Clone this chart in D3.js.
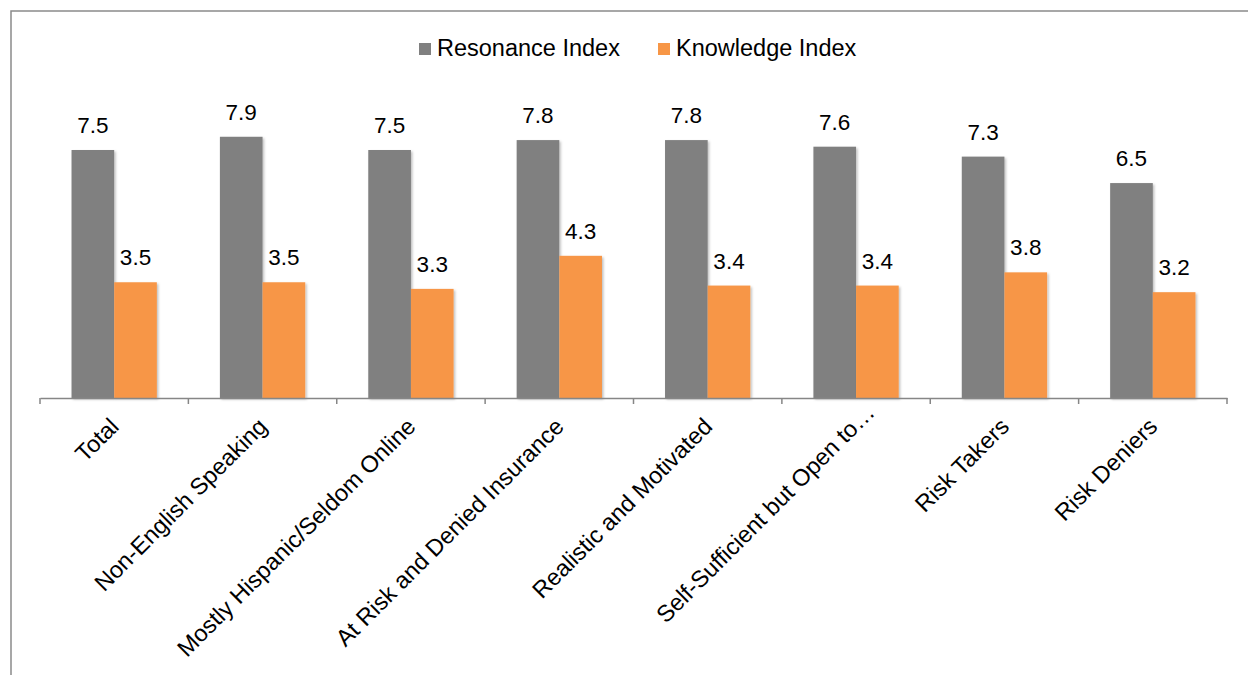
<!DOCTYPE html>
<html>
<head>
<meta charset="utf-8">
<script src="https://cdn.jsdelivr.net/npm/d3@7"></script>
<style>
  html, body { margin: 0; padding: 0; background: #fff; }
  svg { display: block; font-family: "Liberation Sans", Arial, sans-serif; }
</style>
</head>
<body>
<svg id="chart" width="1248" height="675"></svg>
<script>
// Segment categories and the two index series
const categories = [
  "Total",
  "Non-English Speaking",
  "Mostly Hispanic/Seldom Online",
  "At Risk and Denied Insurance",
  "Realistic and Motivated",
  "Self-Sufficient but Open to\u2026",
  "Risk Takers",
  "Risk Deniers"
];
const seriesNames = ["Resonance Index", "Knowledge Index"];
const resonance = [7.5, 7.9, 7.5, 7.8, 7.8, 7.6, 7.3, 6.5];
const knowledge = [3.5, 3.5, 3.3, 4.3, 3.4, 3.4, 3.8, 3.2];
const colors = ["#808080", "#F79646"];

const rows = categories.map((c, i) => ({ cat: c, values: [resonance[i], knowledge[i]] }));

const svg = d3.select("#chart");
const W = 1248, H = 675;
const plot = { left: 40, right: 1227, baseline: 398, top: 100.4 };

// Outer frame (right and bottom edges run past the canvas)
svg.append("rect")
  .attr("x", 11).attr("y", 11)
  .attr("width", W + 20).attr("height", H + 20)
  .attr("fill", "none").attr("stroke", "#8a8a8a").attr("stroke-width", 1.5);

// Soft shadow under the bars
const defs = svg.append("defs");
const f = defs.append("filter").attr("id", "shadow")
  .attr("x", "-20%").attr("y", "-20%").attr("width", "150%").attr("height", "150%");
f.append("feDropShadow").attr("dx", 1.5).attr("dy", 1.5)
  .attr("stdDeviation", 1.2).attr("flood-color", "#000").attr("flood-opacity", 0.25);

const x0 = d3.scaleBand().domain(categories)
  .range([plot.left, plot.right]).paddingInner(0.425).paddingOuter(0.2125);
const x1 = d3.scaleBand().domain(seriesNames).range([0, x0.bandwidth()]);
const y = d3.scaleLinear().domain([0, 9]).range([plot.baseline, plot.top]);

// Bars
const groups = svg.append("g").selectAll("g").data(rows).join("g")
  .attr("transform", d => `translate(${x0(d.cat)},0)`);

groups.selectAll("rect").data(d => d.values.map((v, k) => ({ k, v })))
  .join("rect")
  .attr("x", d => x1(seriesNames[d.k]))
  .attr("y", d => y(d.v))
  .attr("width", x1.bandwidth())
  .attr("height", d => y(0) - y(d.v))
  .attr("fill", d => colors[d.k])
  .attr("filter", "url(#shadow)");

// Value labels
groups.selectAll("text").data(d => d.values.map((v, k) => ({ k, v })))
  .join("text")
  .attr("x", d => x1(seriesNames[d.k]) + x1.bandwidth() / 2)
  .attr("y", d => y(d.v) - 17)
  .attr("text-anchor", "middle")
  .attr("font-size", 22.5)
  .attr("fill", "#000")
  .text(d => d3.format(".1f")(d.v));

// Category axis
const xAxis = d3.axisBottom(x0).tickSize(0).tickFormat("");
const axisG = svg.append("g").attr("transform", `translate(0,${plot.baseline})`).call(xAxis);
axisG.select(".domain").attr("stroke", "#868686").attr("stroke-width", 1.5);

// Tick marks between categories
const step = x0.step();
const tickPos = d3.range(categories.length + 1).map(i => plot.left + i * step);
axisG.selectAll("line.sep").data(tickPos).join("line")
  .attr("class", "sep")
  .attr("x1", d => d).attr("x2", d => d)
  .attr("y1", 0).attr("y2", 6)
  .attr("stroke", "#868686").attr("stroke-width", 1.5);

// Rotated category labels (truncated labels sit a little further along their line)
axisG.selectAll("text.cat").data(categories).join("text")
  .attr("class", "cat")
  .attr("transform", d => `translate(${x0(d) + x0.bandwidth() / 2 + 6},${30}) rotate(-45)`)
  .attr("dx", d => d.endsWith("\u2026") ? 20 : 0)
  .attr("text-anchor", "end")
  .attr("font-size", 23.5)
  .attr("fill", "#000")
  .text(d => d);

// Legend
const legend = svg.append("g").attr("transform", "translate(419,48)");
const legendItems = [
  { name: seriesNames[0], color: colors[0], x: 0 },
  { name: seriesNames[1], color: colors[1], x: 239 }
];
const li = legend.selectAll("g").data(legendItems).join("g")
  .attr("transform", d => `translate(${d.x},0)`);
li.append("rect").attr("x", 0).attr("y", -5).attr("width", 12).attr("height", 12)
  .attr("fill", d => d.color);
li.append("text").attr("x", 18).attr("y", 8)
  .attr("font-size", 23.5).attr("fill", "#000")
  .text(d => d.name);
</script>
</body>
</html>
